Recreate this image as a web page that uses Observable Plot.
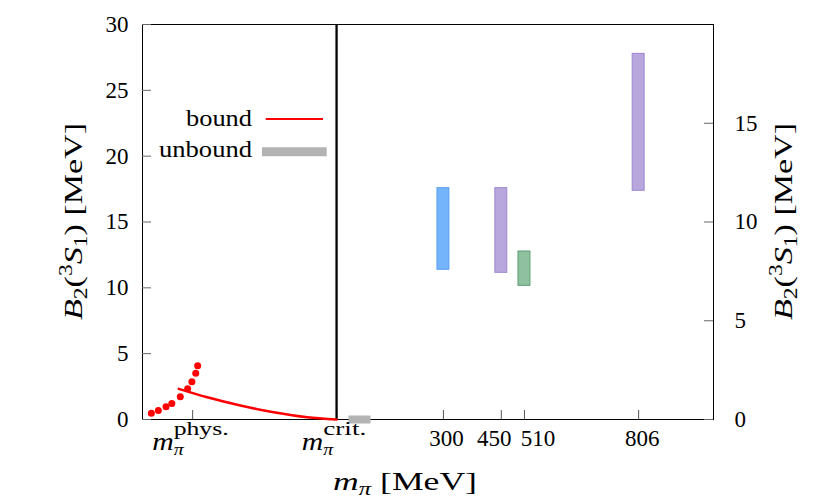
<!DOCTYPE html>
<html><head><meta charset="utf-8">
<script src="https://cdn.jsdelivr.net/npm/d3@7"></script>
<script src="https://cdn.jsdelivr.net/npm/@observablehq/plot@0.6"></script>
<style>body{margin:0;background:#fff} svg text{font-family:"Liberation Serif","Times New Roman",Tinos,Times,serif;}</style>
</head><body><div id="chart"></div>
<script>
// Horizontal positions use the chart's own x units (MeV on the lattice part)
const mPhys = -350;
const mCrit = 23;
const xTickValues = [300, 450, 510, 806];
const yLeftTicks = [0, 5, 10, 15, 20, 25, 30];
const yRightTicks = [0, 5, 10, 15];
const rightToLeft = 1.5; // right-axis unit in left-axis units

// bound state: EFT points and curve
const boundDotsX = [-457, -439, -419, -404, -382, -363, -352, -342, -337];
const boundDotsB = [0.48, 0.68, 0.96, 1.22, 1.72, 2.33, 2.86, 3.52, 4.08];
const curveX = [-386, -312, -226, -140, -53, 23];
const curveB = [2.33, 1.69, 1.06, 0.55, 0.17, 0];

// lattice results
const latticeM = [300, 450, 510, 806];
const latticeLo = [11.37, 11.14, 10.15, 17.37];
const latticeHi = [17.57, 17.57, 12.76, 27.77];
const latticeFill = ["#74b4fb", "#b8a7dc", "#8fc1a0", "#b8a7dc"];
const latticeStroke = ["#579ff0", "#9c86d1", "#5e9d75", "#9c86d1"];

// unbound region marker
const unboundX = [54, 111];

const dots = boundDotsX.map((x, i) => ({x, b: boundDotsB[i]}));
const curve = curveX.map((x, i) => ({x, b: curveB[i]}));
const lattice = latticeM.map((m, i) => ({m, lo: latticeLo[i], hi: latticeHi[i], fill: latticeFill[i], stroke: latticeStroke[i]}));
const halfW = 15.5;
const labelNudge = [3, -7, 13.5, 3.5]; // label offsets (px) as set in the original

const W = 830, H = 498, ML = 142, MR = 117, MT = 24, MB = 79;
const FW = W - ML - MR, FH = H - MT - MB, TK = 9;
const FONT = "Liberation Serif, Times New Roman, Tinos, Times, serif";

const chart = Plot.plot({
  width: W, height: H,
  marginLeft: ML, marginRight: MR, marginTop: MT, marginBottom: MB,
  style: {fontFamily: FONT, fontSize: "23px", color: "black", background: "white", overflow: "visible"},
  x: {domain: [-480, 1000], axis: null},
  y: {domain: [0, 30], axis: null},
  marks: [
    Plot.frame({stroke: "black", strokeWidth: 1}),
    Plot.tickY(yLeftTicks, {y: d => d, stroke: "#666", insetRight: FW - TK}),
    Plot.tickY(yRightTicks.map(v => v * rightToLeft), {y: d => d, stroke: "#666", insetLeft: FW - TK}),
    Plot.tickX([mPhys, mCrit, ...xTickValues], {x: d => d, stroke: "#555", insetTop: FH - TK}),
    Plot.axisY({anchor: "left", ticks: yLeftTicks, tickSize: 0, tickPadding: 14, label: null}),
    Plot.axisY({anchor: "right", ticks: yRightTicks.map(v => v * rightToLeft), tickFormat: d => String(Math.round(d / rightToLeft)), tickSize: 0, tickPadding: 21, label: null, textAnchor: "start"}),
    ...xTickValues.map((v, i) => Plot.axisX({ticks: [v], tickSize: 0, tickPadding: 10, label: null, dx: labelNudge[i]})),
    Plot.ruleX([mCrit], {y1: 0, y2: 30, stroke: "black", strokeWidth: 2.3}),
    Plot.link([unboundX], {x1: d => d[0], x2: d => d[1], y1: 0, y2: 0, stroke: "#b3b3b3", strokeWidth: 8}),
    Plot.line(curve, {x: "x", y: "b", stroke: "#ff0000", strokeWidth: 2.5, curve: "monotone-x"}),
    Plot.dot(dots, {x: "x", y: "b", r: 3.5, fill: "#ff0000", stroke: "none"}),
    Plot.rect(lattice, {x1: d => d.m - halfW, x2: d => d.m + halfW, y1: "lo", y2: "hi", fill: "fill", stroke: "stroke", strokeWidth: 1})
  ]
});
document.getElementById("chart").appendChild(chart);

const svg = d3.select(chart);
const sx = chart.scale("x");

function txt(parent, o) {
  const t = parent.append("text")
    .attr("x", o.x).attr("y", o.y)
    .attr("font-family", FONT)
    .attr("font-size", o.size)
    .attr("fill", o.color || "black")
    .attr("text-anchor", o.anchor || "start")
    .attr("font-style", o.italic ? "italic" : "normal")
    .text(o.text);
  if (o.length) t.attr("textLength", o.length).attr("lengthAdjust", "spacingAndGlyphs");
  return t;
}

// m_pi tick labels
function mLabel(xv, sup, startOff, supLen) {
  const x0 = sx.apply(xv) + startOff;
  txt(svg, {x: x0, y: 450, text: "m", size: 26, italic: true, length: 21.5});
  txt(svg, {x: x0 + 21.5, y: 455, text: "π", size: 17, italic: true, length: 10});
  txt(svg, {x: x0 + 21.5, y: 435, text: sup, size: 18, length: supLen});
}
mLabel(mPhys, "phys.", -40, 55);
mLabel(mCrit, "crit.", -34.3, 43);

// x-axis title
{
  const t = svg.append("text").attr("x", 405).attr("y", 490).attr("text-anchor", "middle")
    .attr("font-family", FONT).attr("font-size", 26).attr("textLength", 144).attr("lengthAdjust", "spacingAndGlyphs");
  t.append("tspan").attr("font-style", "italic").text("m");
  t.append("tspan").attr("font-style", "italic").attr("font-size", 18).attr("dy", 5).text("π");
  t.append("tspan").attr("dy", -5).text(" [MeV]");
}

// y-axis titles
function yTitle(cx) {
  const g = svg.append("g").attr("transform", `translate(${cx},221.5) rotate(-90)`);
  const t = g.append("text").attr("x", 0).attr("y", 0).attr("text-anchor", "middle")
    .attr("font-family", FONT).attr("font-size", 26).attr("textLength", 197).attr("lengthAdjust", "spacingAndGlyphs");
  t.append("tspan").attr("font-style", "italic").text("B");
  t.append("tspan").attr("font-size", 18).attr("dy", 5).text("2");
  t.append("tspan").attr("dy", -5).text("(");
  t.append("tspan").attr("font-size", 18).attr("dy", -10).text("3");
  t.append("tspan").attr("font-style", "italic").attr("dy", 10).text("S");
  t.append("tspan").attr("font-size", 18).attr("dy", 5).text("1");
  t.append("tspan").attr("dy", -5).text(") [MeV]");
}
yTitle(81.5);
yTitle(791.5);

// legend
txt(svg, {x: 252, y: 126, text: "bound", size: 24, anchor: "end", length: 66});
svg.append("line").attr("x1", 265.7).attr("x2", 323).attr("y1", 119).attr("y2", 119).attr("stroke", "#ff0000").attr("stroke-width", 2);
txt(svg, {x: 252, y: 157, text: "unbound", size: 24, anchor: "end", length: 93});
svg.append("line").attr("x1", 262).attr("x2", 326.7).attr("y1", 151.7).attr("y2", 151.7).attr("stroke", "#b3b3b3").attr("stroke-width", 9);
</script>
</body></html>
